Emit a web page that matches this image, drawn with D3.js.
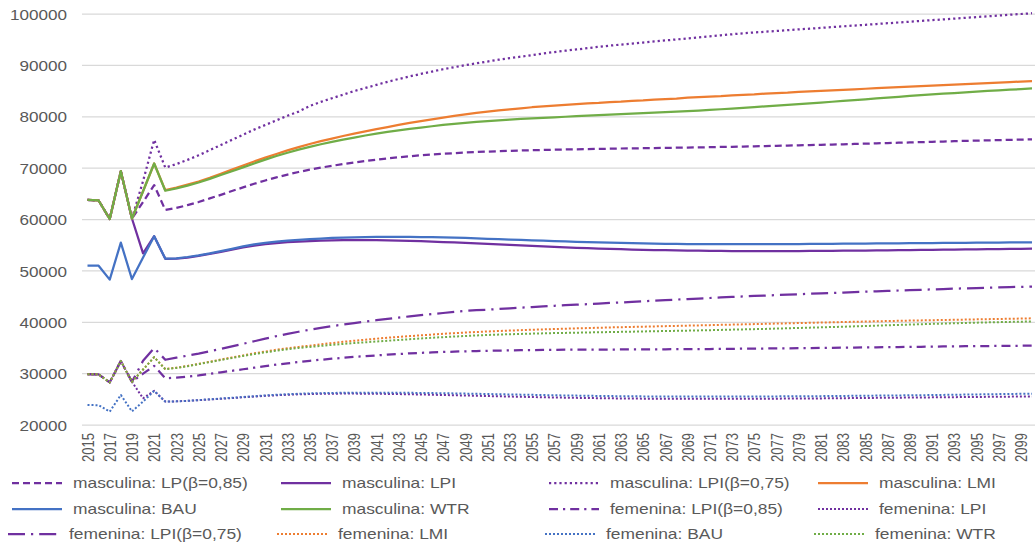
<!DOCTYPE html>
<html>
<head>
<meta charset="utf-8">
<script src="https://cdn.jsdelivr.net/npm/d3@7"></script>
<style>
  html, body { margin: 0; padding: 0; background: #fff; }
  svg { display: block; font-family: "Liberation Sans", Arial, sans-serif; }
</style>
</head>
<body>
<svg id="chart" width="1035" height="547"></svg>
<script>
// Years on the category axis
const years = d3.range(2015, 2101);
const yTicks = [20000, 30000, 40000, 50000, 60000, 70000, 80000, 90000, 100000];

// ---- masculina ----
const mascLP085 = [63800,63700,60100,69400,60200,63400,66700,61850,62250,62800,
  63400,64100,64800,65550,66250,66950,67600,68200,68750,69250,
  69700,70100,70450,70800,71100,71400,71650,71900,72120,72320,
  72500,72660,72800,72920,73030,73130,73220,73300,73370,73430,
  73490,73540,73590,73630,73670,73710,73750,73780,73820,73850,
  73880,73910,73940,73970,74000,74040,74080,74120,74160,74200,
  74240,74290,74340,74390,74440,74490,74540,74590,74640,74700,
  74760,74820,74880,74940,75000,75060,75120,75180,75240,75300,
  75350,75400,75450,75500,75550,75600];

const mascLPI = [63800,63700,60100,69400,60200,53400,56750,52350,52400,52600,
  52900,53300,53700,54150,54550,54900,55200,55400,55600,55700,
  55800,55900,55950,56000,56000,56000,55980,55950,55900,55850,
  55780,55700,55620,55530,55440,55350,55250,55150,55050,54950,
  54850,54760,54670,54580,54500,54420,54350,54280,54220,54160,
  54110,54060,54020,53980,53950,53920,53900,53880,53860,53850,
  53840,53840,53840,53850,53860,53870,53880,53900,53920,53940,
  53960,53980,54000,54030,54050,54080,54100,54130,54150,54180,
  54200,54230,54250,54280,54300,54330];

const mascLPI075 = [63800,63700,60100,69400,60200,67500,75500,70100,70800,71600,
  72500,73500,74500,75500,76500,77500,78400,79300,80200,81000,
  82100,82900,83600,84300,85000,85600,86200,86800,87350,87850,
  88350,88800,89250,89650,90050,90400,90750,91100,91400,91700,
  92000,92300,92600,92850,93100,93350,93600,93850,94050,94250,
  94450,94650,94850,95050,95250,95450,95650,95850,96050,96250,
  96400,96550,96700,96850,97000,97150,97300,97450,97600,97750,
  97900,98050,98200,98350,98500,98650,98800,98950,99100,99250,
  99400,99550,99700,99850,100000,100150];

const mascLMI = [63800,63700,60100,69400,60200,65500,70900,65700,66200,66800,
  67400,68100,68900,69700,70500,71300,72050,72750,73450,74100,
  74700,75250,75750,76250,76700,77150,77600,78000,78400,78800,
  79150,79500,79850,80150,80450,80750,81000,81250,81450,81650,
  81850,82000,82150,82300,82450,82600,82700,82850,82950,83100,
  83200,83350,83450,83550,83700,83800,83900,84000,84150,84250,
  84350,84500,84600,84700,84850,84950,85050,85150,85250,85350,
  85450,85550,85650,85750,85850,85950,86050,86150,86250,86350,
  86450,86550,86650,86750,86850,86950];

const mascBAU = [51000,51000,48300,55500,48400,52600,56750,52400,52450,52700,
  53000,53400,53850,54300,54750,55150,55450,55700,55900,56050,
  56200,56300,56400,56450,56500,56550,56600,56620,56620,56600,
  56580,56550,56500,56450,56400,56330,56250,56180,56100,56020,
  55950,55880,55800,55730,55660,55600,55540,55480,55430,55380,
  55340,55300,55270,55250,55230,55220,55210,55200,55200,55200,
  55200,55200,55210,55220,55230,55240,55250,55270,55280,55300,
  55320,55340,55350,55370,55390,55400,55420,55440,55450,55470,
  55480,55500,55510,55530,55540,55550];

const mascWTR = [63800,63700,60100,69400,60200,65500,70900,65600,66050,66600,
  67200,67900,68650,69400,70150,70900,71650,72350,73000,73600,
  74150,74650,75100,75550,75950,76350,76700,77050,77350,77650,
  77900,78150,78400,78600,78800,79000,79150,79300,79450,79600,
  79700,79800,79900,80000,80100,80200,80300,80400,80500,80600,
  80700,80800,80900,81000,81100,81200,81330,81460,81600,81740,
  81880,82020,82160,82300,82450,82600,82760,82920,83080,83240,
  83400,83560,83720,83880,84040,84200,84340,84480,84620,84760,
  84900,85020,85140,85260,85380,85500];

// ---- femenina ----
const femLPI085 = [29900,29850,28300,32450,28400,30000,31500,29100,29200,29400,
  29650,29950,30250,30550,30850,31150,31450,31750,32000,32250,
  32500,32700,32900,33080,33250,33400,33550,33700,33820,33940,
  34040,34130,34210,34280,34340,34400,34450,34490,34530,34560,
  34590,34610,34630,34650,34660,34670,34680,34690,34700,34710,
  34720,34730,34740,34750,34760,34780,34790,34810,34830,34850,
  34870,34890,34910,34930,34950,34970,35000,35020,35050,35070,
  35100,35130,35150,35180,35200,35230,35250,35280,35300,35330,
  35350,35370,35390,35410,35430,35450];

const femLPI = [29900,29850,28300,32450,28400,25200,26650,24550,24600,24700,
  24830,24970,25110,25250,25390,25530,25670,25790,25890,25970,
  26030,26070,26100,26110,26110,26100,26080,26050,26020,25980,
  25940,25890,25840,25790,25740,25690,25640,25590,25540,25490,
  25440,25400,25360,25320,25280,25250,25220,25190,25170,25150,
  25130,25120,25110,25100,25090,25090,25090,25090,25090,25100,
  25110,25120,25130,25140,25150,25160,25180,25200,25220,25240,
  25260,25280,25300,25320,25340,25360,25380,25400,25420,25440,
  25460,25480,25500,25520,25540,25560];

const femLPI075 = [29900,29850,28300,32450,28400,32500,35000,32700,33100,33500,
  33900,34350,34800,35300,35800,36300,36800,37300,37750,38150,
  38550,38900,39250,39550,39850,40150,40400,40650,40900,41150,
  41400,41600,41800,42000,42200,42350,42450,42580,42710,42840,
  42960,43080,43200,43310,43420,43530,43640,43750,43860,43970,
  44080,44190,44300,44410,44520,44620,44720,44820,44920,45020,
  45110,45200,45290,45380,45460,45540,45620,45700,45780,45860,
  45940,46020,46100,46180,46250,46320,46390,46460,46530,46600,
  46660,46720,46780,46840,46890,46940];

const femLMI = [29900,29850,28300,32450,28400,30800,33200,30900,31150,31500,
  31900,32300,32750,33150,33550,33950,34300,34650,34950,35200,
  35450,35700,35950,36200,36400,36600,36800,37000,37150,37300,
  37450,37600,37750,37880,38000,38100,38200,38300,38380,38460,
  38540,38610,38680,38750,38810,38870,38930,38990,39040,39090,
  39140,39190,39240,39290,39340,39390,39440,39490,39540,39590,
  39640,39690,39740,39790,39840,39890,39940,39990,40040,40090,
  40140,40190,40240,40280,40320,40360,40400,40440,40480,40520,
  40560,40600,40640,40680,40720,40760];

const femBAU = [23900,23850,22600,25850,22650,24550,26650,24550,24600,24700,
  24850,25000,25150,25300,25450,25600,25750,25880,25990,26080,
  26150,26200,26240,26270,26290,26300,26300,26290,26280,26260,
  26240,26210,26180,26150,26110,26070,26030,25990,25950,25910,
  25870,25830,25790,25750,25720,25690,25660,25630,25610,25590,
  25570,25560,25550,25540,25530,25530,25530,25530,25530,25540,
  25550,25560,25570,25580,25590,25600,25620,25640,25660,25680,
  25700,25720,25740,25760,25780,25800,25830,25860,25890,25920,
  25950,25980,26010,26040,26070,26100];

const femWTR = [29900,29850,28300,32450,28400,30800,33200,30850,31100,31450,
  31850,32250,32650,33050,33450,33800,34150,34450,34750,35000,
  35200,35400,35600,35780,35950,36100,36250,36400,36550,36700,
  36850,36980,37100,37220,37330,37430,37520,37600,37670,37730,
  37790,37840,37890,37930,37970,38010,38050,38090,38130,38170,
  38210,38250,38290,38330,38370,38410,38460,38510,38560,38610,
  38660,38710,38770,38830,38890,38950,39010,39070,39130,39200,
  39270,39340,39410,39480,39550,39620,39680,39740,39800,39860,
  39920,39970,40020,40070,40110,40150];

const seriesNames = [
  "masculina: LP(β=0,85)", "masculina: LPI", "masculina: LPI(β=0,75)", "masculina: LMI",
  "masculina: BAU", "masculina: WTR", "femenina: LPI(β=0,85)", "femenina: LPI",
  "femenina: LPI(β=0,75)", "femenina: LMI", "femenina: BAU", "femenina: WTR"
];
const seriesValues = [mascLP085, mascLPI, mascLPI075, mascLMI, mascBAU, mascWTR,
  femLPI085, femLPI, femLPI075, femLMI, femBAU, femWTR];

// Line styling per series (same order as names)
const PURPLE = "#7030A0", ORANGE = "#ED7D31", BLUE = "#4472C4", GREEN = "#70AD47";
const styles = [
  { color: PURPLE, width: 2.25, dash: "7,4" },
  { color: PURPLE, width: 2.25, dash: null },
  { color: PURPLE, width: 2.25, dash: "2.2,3" },
  { color: ORANGE, width: 2.25, dash: null },
  { color: BLUE,   width: 2.25, dash: null },
  { color: GREEN,  width: 2.25, dash: null },
  { color: PURPLE, width: 2.25, dash: "9,5,2.2,5" },
  { color: PURPLE, width: 2,    dash: "2,2" },
  { color: PURPLE, width: 2.25, dash: "17,6,2.2,6" },
  { color: ORANGE, width: 2,    dash: "2,2" },
  { color: BLUE,   width: 2,    dash: "2,2" },
  { color: GREEN,  width: 2,    dash: "2,2" }
];

const TEXT = "#595959";
const svg = d3.select("#chart");
const W = 1035;
const plotLeft = 82, plotRight = 1035, plotTop = 14, plotBottom = 425;

const x = d3.scalePoint().domain(years).range([87.5, 1032]);
const y = d3.scaleLinear().domain([20000, 100000]).range([plotBottom, plotTop]);

svg.append("rect").attr("width", W).attr("height", 547).attr("fill", "#fff");

// Horizontal gridlines
svg.append("g").selectAll("line").data(yTicks).join("line")
  .attr("x1", plotLeft).attr("x2", plotRight)
  .attr("y1", d => y(d)).attr("y2", d => y(d))
  .attr("stroke", "#d9d9d9").attr("stroke-width", 1.25);

// Y axis labels (glyphs drawn slightly wide)
const yAxis = d3.axisLeft(y).tickValues(yTicks).tickSize(0).tickPadding(0).tickFormat(d3.format("d"));
svg.append("g").attr("transform", "translate(67,0)").call(yAxis)
  .call(g => g.select(".domain").remove())
  .selectAll("text")
  .attr("font-size", 14.5).attr("fill", TEXT)
  .attr("font-family", "Liberation Sans, Arial, sans-serif")
  .attr("x", 0).attr("dy", "0.36em")
  .attr("transform", "scale(1.18,1)");

// X axis labels (every other year, rotated)
const xAxis = d3.axisBottom(x).tickValues(years.filter((d, i) => i % 2 === 0)).tickSize(0).tickPadding(0);
svg.append("g").attr("transform", `translate(0,${plotBottom + 8})`).call(xAxis)
  .call(g => g.select(".domain").remove())
  .selectAll("text")
  .attr("font-size", 13).attr("fill", TEXT)
  .attr("font-family", "Liberation Sans, Arial, sans-serif")
  .attr("text-anchor", "end")
  .attr("transform", "scale(1.22,1) rotate(-90)")
  .attr("x", 0).attr("y", 0).attr("dy", "0.36em");

// Series lines
const line = d3.line().x((d, i) => x(years[i])).y(d => y(d));
svg.append("g").selectAll("path").data(seriesValues).join("path")
  .attr("d", d => line(d))
  .attr("fill", "none")
  .attr("stroke", (d, i) => styles[i].color)
  .attr("stroke-width", (d, i) => styles[i].width)
  .attr("stroke-dasharray", (d, i) => styles[i].dash)
  .attr("stroke-linejoin", "round");

// Legend: 3 rows x 4 columns
const legRowY = [483, 509, 534];
const legRowShift = [0, 0, -4];
const legColX = [12, 281, 549, 818];
const legend = svg.append("g");
seriesNames.forEach((name, i) => {
  const r = Math.floor(i / 4), c = i % 4;
  const x0 = legColX[c] + legRowShift[r];
  const g = legend.append("g").attr("transform", `translate(${x0},${legRowY[r]})`);
  g.append("line").attr("x1", 0).attr("x2", 50).attr("y1", 0).attr("y2", 0)
    .attr("stroke", styles[i].color).attr("stroke-width", styles[i].width)
    .attr("stroke-dasharray", styles[i].dash);
  g.append("text").attr("transform", "translate(61,0) scale(1.16,1)")
    .attr("dy", "0.35em")
    .attr("font-size", 15).attr("fill", TEXT).text(name);
});
</script>
</body>
</html>
